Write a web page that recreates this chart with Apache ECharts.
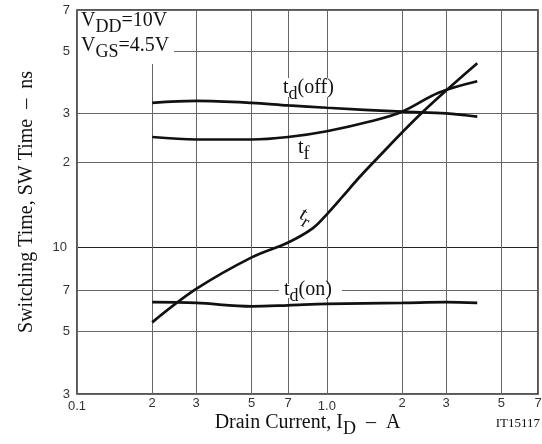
<!DOCTYPE html>
<html><head><meta charset="utf-8">
<script src="https://cdn.jsdelivr.net/npm/echarts@6/dist/echarts.min.js"></script>
<style>html,body{margin:0;padding:0;background:#fff}#c{width:542px;height:444px}</style>
</head><body><div id="c"></div>
<script>
// Tick values and labels
const xTickValues = [0.1, 0.2, 0.3, 0.5, 0.7, 1, 2, 3, 5, 7];
const xTickLabels = ['0.1', '2', '3', '5', '7', '1.0', '2', '3', '5', '7'];
const yTickValues = [3, 5, 7, 10, 20, 30, 50, 70];
const yTickLabels = ['3', '5', '7', '10', '2', '3', '5', '7'];

// Series: [Drain current (A), switching time (ns)]
const tdOff = [[0.2, 32.7], [0.3, 33.2], [0.5, 32.7], [0.7, 32.0], [1.0, 31.4], [2, 30.4], [3, 30.0], [4, 29.2]];
const tf = [[0.2, 24.7], [0.3, 24.2], [0.5, 24.2], [0.7, 24.7], [1.0, 25.9], [1.5, 28.1], [2, 30.4], [2.8, 35.5], [4, 39.0]];
const tr = [[0.2, 5.4], [0.3, 7.1], [0.5, 9.2], [0.7, 10.4], [0.88, 11.7], [1.0, 13.1], [1.16, 15.2], [1.33, 17.5], [1.53, 20], [2.39, 30], [4, 45.2]];
const tdOn = [[0.2, 6.37], [0.3, 6.33], [0.5, 6.16], [0.7, 6.21], [1.0, 6.28], [2, 6.33], [3, 6.37], [4, 6.33]];

const SERIF = 'Liberation Serif';
const SANS = 'Liberation Sans';

function findLabel(v, vals, labels) {
  for (let i = 0; i < vals.length; i++) {
    if (Math.abs(Math.log10(v) - Math.log10(vals[i])) < 1e-6) return labels[i];
  }
  return '';
}

const subRich = {
  m: { fontFamily: SERIF, fontSize: 20, lineHeight: 22, color: '#111' },
  s: { fontFamily: SERIF, fontSize: 18, lineHeight: 14, padding: [12, 0, 0, 0], color: '#111' }
};

function seriesOf(name, data) {
  return {
    name: name, type: 'line', data: data, smooth: 0.35, showSymbol: false, silent: true,
    lineStyle: { color: '#111', width: 2.7 }, z: 3
  };
}

function txt(x, y, text, extra) {
  return Object.assign({
    type: 'text', x: x, y: y, z: 100,
    style: Object.assign({ text: text, x: 0, y: 0, align: 'left', verticalAlign: 'middle', rich: subRich, fill: '#111' }, (extra && extra.style) || {})
  }, (extra && extra.el) || {});
}

function whiteRect(x, y, w, h) {
  return { type: 'rect', z: 1, shape: { x: x, y: y, width: w, height: h }, style: { fill: '#fff' } };
}

const chart = echarts.init(document.getElementById('c'), null, { renderer: 'canvas' });
chart.setOption({
  animation: false,
  backgroundColor: '#fff',
  grid: { left: 77, right: 4, top: 10, bottom: 50, show: true, borderColor: '#222', borderWidth: 1.5, containLabel: false, outerBoundsMode: 'none' },
  xAxis: {
    type: 'log', logBase: 10, min: 0.1, max: 7,
    name: '{m|Drain Current, I}{s|D}{m|  –  A}',
    nameLocation: 'middle', nameGap: 18, nameMoveOverlap: false,
    nameTextStyle: { rich: subRich },
    axisLine: { show: false },
    axisTick: { show: false, customValues: xTickValues },
    axisLabel: {
      customValues: xTickValues, margin: 3,
      formatter: function (v) {
        const s = findLabel(v, xTickValues, xTickLabels);
        return s.indexOf('.') >= 0 ? '{d|' + s + '}' : '{n|' + s + '}';
      },
      rich: {
        d: { fontFamily: SANS, fontSize: 13, color: '#333', padding: [3, 0, 0, 0] },
        n: { fontFamily: SANS, fontSize: 13, color: '#333' }
      }
    },
    splitLine: { show: true, lineStyle: { color: '#666', width: 1 } },
    minorSplitLine: { show: false }
  },
  yAxis: {
    type: 'log', logBase: 10, min: 3, max: 70,
    name: 'Switching Time, SW Time  –  ns',
    nameLocation: 'middle', nameGap: 40, nameMoveOverlap: false,
    nameTextStyle: { fontFamily: SERIF, fontSize: 20, color: '#111' },
    axisLine: { show: false },
    axisTick: { show: false, customValues: yTickValues },
    axisLabel: {
      customValues: yTickValues, margin: 7,
      formatter: function (v) {
        const s = findLabel(v, yTickValues, yTickLabels);
        return s.length > 1 ? '{t|' + s + '}' : '{n|' + s + '}';
      },
      rich: {
        t: { fontFamily: SANS, fontSize: 13, color: '#333', padding: [0, 3, 0, 0] },
        n: { fontFamily: SANS, fontSize: 13, color: '#333' }
      }
    },
    splitLine: { show: true, lineStyle: { color: ['#666', '#666', '#666', '#222', '#666', '#666', '#666', '#666'], width: 1 } }
  },
  series: [
    seriesOf('td(off)', tdOff),
    seriesOf('tf', tf),
    seriesOf('tr', tr),
    seriesOf('td(on)', tdOn)
  ],
  graphic: [
    { type: 'rect', z: 90, shape: { x: 78, y: 11, width: 96, height: 53 }, style: { fill: '#fff' } },
    txt(81, 21, '{m|V}{s|DD}{m|=10V}'),
    txt(81, 46, '{m|V}{s|GS}{m|=4.5V}'),
    whiteRect(281, 78, 58, 19),
    txt(283, 88, '{m|t}{s|d}{m|(off)}'),
    txt(298, 148, '{m|t}{s|f}'),
    txt(306, 216, '{m|t}{s|r}', { style: { align: 'center' }, el: { rotation: -0.55 } }),
    whiteRect(279, 284, 63, 14),
    txt(284, 290, '{m|t}{s|d}{m|(on)}'),
    { type: 'text', z: 100, x: 540, y: 424, style: { text: 'IT15117', x: 0, y: 0, align: 'right', verticalAlign: 'middle', fontFamily: SERIF, fontSize: 13, fill: '#111' } }
  ]
});
</script>
</body></html>
